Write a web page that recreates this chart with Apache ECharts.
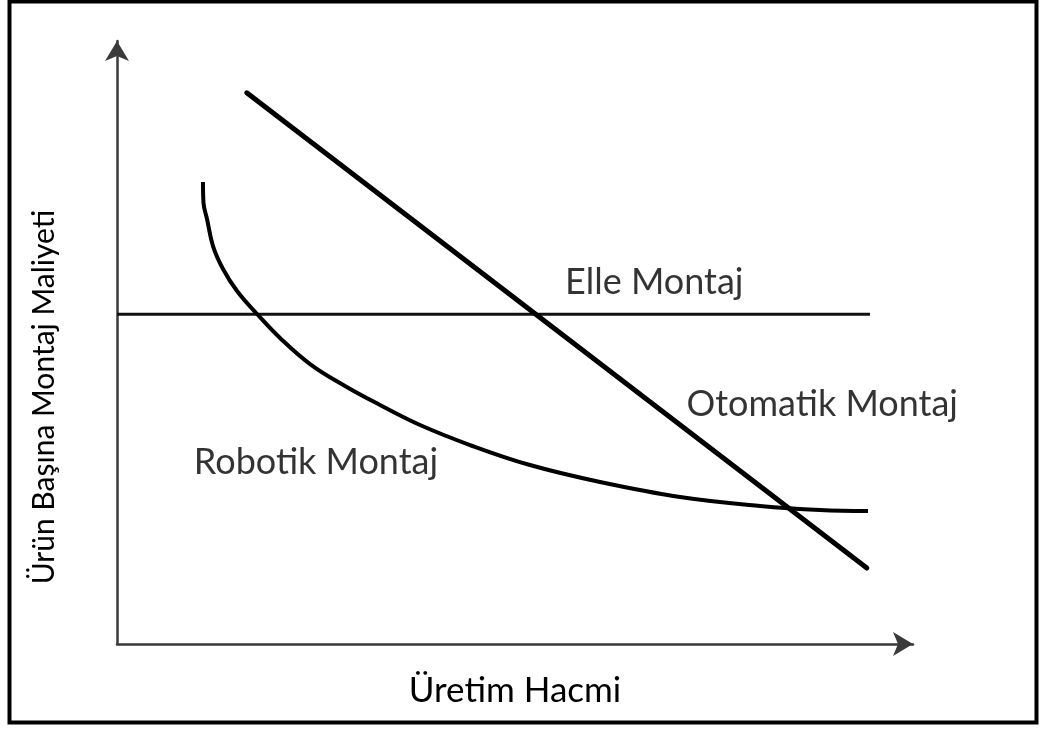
<!DOCTYPE html>
<html>
<head>
<meta charset="utf-8">
<script src="https://cdn.jsdelivr.net/npm/echarts@6/dist/echarts.min.js"></script>
<style>
  html, body { margin: 0; padding: 0; background: #fff; }
  #chart { width: 1041px; height: 729px; }
</style>
</head>
<body>
<div id="chart"></div>
<script>
// Üretim hacmi (x) ve birim maliyet (y), göreli birimler 0-100
const elleX = [0, 94.6];
const elleY = [54.7, 54.7];

const otomatikX = [16.3, 94.2];
const otomatikY = [91.4, 12.6];

const robotikX = [10.80, 10.87, 11.31, 12.06, 13.32, 15.08, 17.59, 20.48, 24.25, 28.64, 33.04, 38.07, 44.35, 51.88, 60.68, 70.73, 80.78, 88.32, 94.35];
const robotikY = [76.62, 73.13, 70.48, 66.00, 62.19, 58.54, 54.73, 50.75, 46.43, 42.79, 39.64, 36.32, 33.00, 29.68, 26.87, 24.38, 22.89, 22.22, 22.06];

const labelNames = ["Elle Montaj", "Otomatik Montaj", "Robotik Montaj"];
const labelX = [67.5, 88.6, 25.0];
const labelY = [59.9, 39.8, 30.2];

const xTitle = "Üretim Hacmi";
const yTitle = "Ürün Başına Montaj Maliyeti";

const font = "Lato";
const zip = (xs, ys) => xs.map((x, i) => [x, ys[i]]);

const myChart = echarts.init(document.getElementById("chart"));

const axisLine = {
  show: true,
  symbol: ["none", "arrow"],
  symbolSize: [18, 20],
  lineStyle: { color: "#3a3a3a", width: 2.5 }
};

myChart.setOption({
  animation: false,
  backgroundColor: "#fff",
  grid: { left: 117, right: 128, top: 41, bottom: 85 },
  xAxis: {
    type: "value",
    min: 0,
    max: 100,
    name: xTitle,
    nameLocation: "middle",
    nameGap: 29,
    nameTextStyle: { fontFamily: font, fontSize: 35, color: "#000" },
    axisLine: axisLine,
    axisTick: { show: false },
    axisLabel: { show: false },
    splitLine: { show: false }
  },
  yAxis: {
    type: "value",
    min: 0,
    max: 100,
    axisLine: axisLine,
    axisTick: { show: false },
    axisLabel: { show: false },
    splitLine: { show: false }
  },
  graphic: [
    {
      type: "rect",
      silent: true,
      shape: { x: 9.5, y: 1.5, width: 1027, height: 721 },
      style: { fill: "none", stroke: "#000", lineWidth: 4 }
    },
    {
      type: "text",
      x: 44,
      y: 397,
      rotation: Math.PI / 2,
      style: {
        text: yTitle,
        fontFamily: font,
        fontSize: 30,
        fill: "#000",
        align: "center",
        verticalAlign: "middle"
      }
    }
  ],
  series: [
    {
      name: "Elle Montaj",
      type: "line",
      data: zip(elleX, elleY),
      symbol: "none",
      lineStyle: { color: "#111", width: 3 }
    },
    {
      name: "Otomatik Montaj",
      type: "line",
      data: zip(otomatikX, otomatikY),
      symbol: "none",
      lineStyle: { color: "#000", width: 5, cap: "round" }
    },
    {
      name: "Robotik Montaj",
      type: "line",
      data: zip(robotikX, robotikY),
      symbol: "none",
      smooth: 0.4,
      lineStyle: { color: "#000", width: 4 }
    },
    {
      type: "scatter",
      data: zip(labelX, labelY),
      symbolSize: 0,
      silent: true,
      label: {
        show: true,
        position: "inside",
        formatter: (p) => labelNames[p.dataIndex],
        fontFamily: font,
        fontSize: 36,
        color: "#000"
      }
    }
  ]
});
</script>
</body>
</html>
